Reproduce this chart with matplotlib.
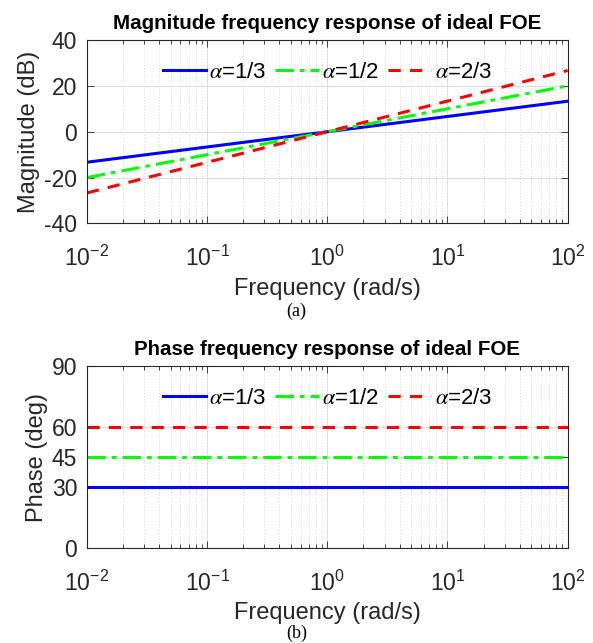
import matplotlib
matplotlib.use('Agg')

import numpy as np
import matplotlib.pyplot as plt
from matplotlib.ticker import LogLocator, NullFormatter

# ==========================================
# DATA
# ==========================================

freq = [1e-2, 1e2]                    # rad/s, plot ends

labels = [r"$\alpha$=1/3", r"$\alpha$=1/2", r"$\alpha$=2/3"]

mag_13 = [-13.3, 13.3]                # dB
mag_12 = [-20.0, 20.0]
mag_23 = [-26.7, 26.7]

phase_13 = [30, 30]                   # deg
phase_12 = [45, 45]
phase_23 = [60, 60]

mag_ticks = [-40, -20, 0, 20, 40]
phase_ticks = [0, 30, 45, 60, 90]

# ==========================================
# STYLE
# ==========================================

plt.rcParams['font.family'] = ['Liberation Sans', 'DejaVu Sans']
plt.rcParams['mathtext.fontset'] = 'stix'
plt.rcParams['axes.unicode_minus'] = False

colors = ["#0000ff", "#00ff00", "#ff0000"]
styles = ["-", "-.", "--"]
dashes = [None, (6, 2, 1.5, 2), (4, 3)]

fig = plt.figure(figsize=(5.93, 6.43), dpi=100)

ax1 = fig.add_axes([0.1467, 0.6525, 0.8105, 0.2853])
ax2 = fig.add_axes([0.1467, 0.1477, 0.8105, 0.2831])


def style_axes(ax, title, ylabel, yticks, ylim):
    ax.set_xscale('log')
    ax.set_xlim(1e-2, 1e2)
    ax.set_ylim(*ylim)
    ax.set_yticks(yticks)
    ax.set_xticks([1e-2, 1e-1, 1e0, 1e1, 1e2])
    ax.xaxis.set_minor_locator(LogLocator(base=10, subs=np.arange(2, 10), numticks=20))
    ax.xaxis.set_minor_formatter(NullFormatter())
    ax.tick_params(which='both', direction='in', top=True, right=True,
                   labelsize=16.5, colors='#262626', width=0.6)
    ax.tick_params(which='major', length=5)
    ax.tick_params(which='minor', length=3)
    ax.tick_params(axis='x', which='major', pad=16)
    ax.tick_params(axis='y', which='major', pad=7)
    ax.grid(True, which='major', color='#dedede', linewidth=0.8)
    ax.grid(True, which='minor', axis='x', color='#c8c8c8',
            linestyle=(0, (1, 2.5)), linewidth=0.6)
    ax.set_axisbelow(True)
    for sp in ax.spines.values():
        sp.set_color('#262626')
        sp.set_linewidth(0.8)
    ax.set_title(title, fontsize=14.8, fontweight='bold', pad=8)
    ax.set_xlabel("Frequency (rad/s)", fontsize=17, color='#262626', labelpad=5)
    ax.set_ylabel(ylabel, fontsize=17, color='#262626', labelpad=3)


def add_legend(ax):
    ax.legend(loc='upper center', bbox_to_anchor=(0.5, 0.93), ncol=3, frameon=False,
              fontsize=16, handlelength=1.95, handletextpad=0.15, columnspacing=0.4,
              borderaxespad=0)


# ==========================================
# MAGNITUDE
# ==========================================

for y, c, ls, d, lab in zip([mag_13, mag_12, mag_23], colors, styles, dashes, labels):
    line, = ax1.plot(freq, y, color=c, linestyle=ls, linewidth=2.2, label=lab)
    if d is not None:
        line.set_dashes(d)

style_axes(ax1, "Magnitude frequency response of ideal FOE",
           "Magnitude (dB)", mag_ticks, (-40, 40))
add_legend(ax1)

# ==========================================
# PHASE
# ==========================================

for y, c, ls, d, lab in zip([phase_13, phase_12, phase_23], colors, styles, dashes, labels):
    line, = ax2.plot(freq, y, color=c, linestyle=ls, linewidth=2.2, label=lab)
    if d is not None:
        line.set_dashes(d)

style_axes(ax2, "Phase frequency response of ideal FOE",
           "Phase (deg)", phase_ticks, (0, 90))
add_legend(ax2)

# ==========================================
# CAPTIONS
# ==========================================

fig.text(0.5, 1 - 311 / 643, "(a)", ha='center', va='center',
         fontsize=13, family=['Liberation Serif', 'DejaVu Serif'])
fig.text(0.5, 1 - 633 / 643, "(b)", ha='center', va='center',
         fontsize=13, family=['Liberation Serif', 'DejaVu Serif'])

fig.savefig("out.png", dpi=100)
